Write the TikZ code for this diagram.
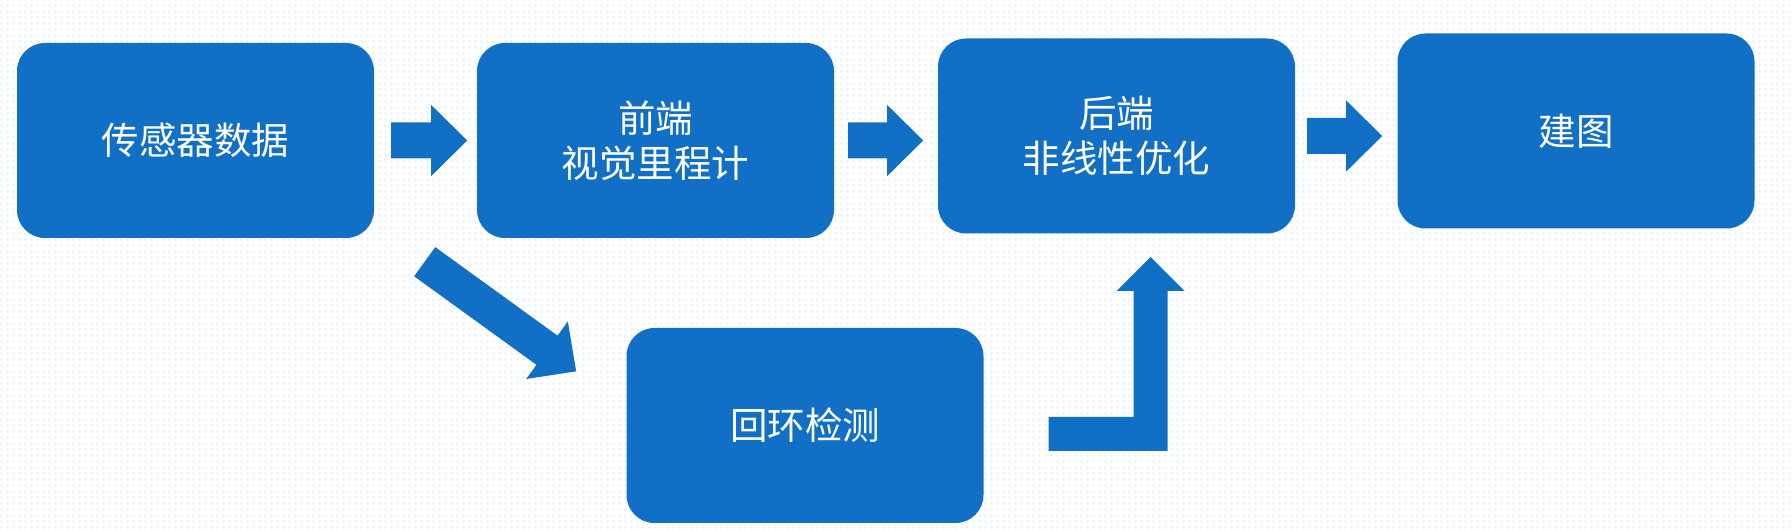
\documentclass[tikz,border=0pt]{standalone}
\usepackage{fontspec}
\setmainfont{Noto Sans CJK SC}
\usetikzlibrary{calc,patterns}

\definecolor{boxblue}{HTML}{1170C6}
\definecolor{dotblue}{HTML}{D8EBF7}

\pgfdeclarepatternformonly{bgdots}{\pgfqpoint{0pt}{0pt}}{\pgfqpoint{6pt}{6pt}}{\pgfqpoint{6pt}{6pt}}%
{\pgfpathrectangle{\pgfqpoint{2pt}{2pt}}{\pgfqpoint{2pt}{2pt}}\pgfusepath{fill}}

\tikzset{
  stage/.style={fill=boxblue, text=white, rounded corners=28pt,
    minimum width=357pt, minimum height=195pt, inner sep=0pt,
    align=center, font=\fontsize{37.5pt}{45pt}\selectfont},
}
% block arrow: start, angle, length
\newcommand{\blockarrow}[3]{%
  \fill[boxblue, shift={#1}, rotate=#2] (0,-18) -- ({#3-36},-18) -- ({#3-36},-35.5)
    -- (#3,0) -- ({#3-36},35.5) -- ({#3-36},18) -- (0,18) -- cycle;}

\begin{document}
\begin{tikzpicture}[x=1pt,y=1pt]
\useasboundingbox (0,0) rectangle (1792,530);
\fill[white] (0,0) rectangle (1792,530);
\fill[pattern=bgdots, pattern color=dotblue] (0,0) rectangle (1792,530);

\node[stage] (sensor) at (195.5,389.5) {传感器数据};
\node[stage] (front) at (655.5,389.5) {前端\\视觉里程计};
\node[stage] (back) at (1116.5,394) {后端\\非线性优化};
\node[stage] (map) at (1576,399) {建图};
\node[stage] (loop) at (805,104.5) {回环检测};

\blockarrow{($(sensor.east)+(17,0)$)}{0}{76}
\blockarrow{($(front.east)+(14,0)$)}{0}{75}
\blockarrow{($(back.east)+(12,0)$)}{0}{75}
\blockarrow{($(sensor.south east)+(50.5,-23.5)$)}{-35.9}{187}

% loop closure into back end
\fill[boxblue] ($(loop.east)+(65,-25.5)$) -- ++(119,0) -- ++(0,160) -- ++(17,0)
  -- ++(-34,34) -- ++(-34,-34) -- ++(17,0) -- ++(0,-126) -- ++(-85,0) -- cycle;
\end{tikzpicture}
\end{document}
